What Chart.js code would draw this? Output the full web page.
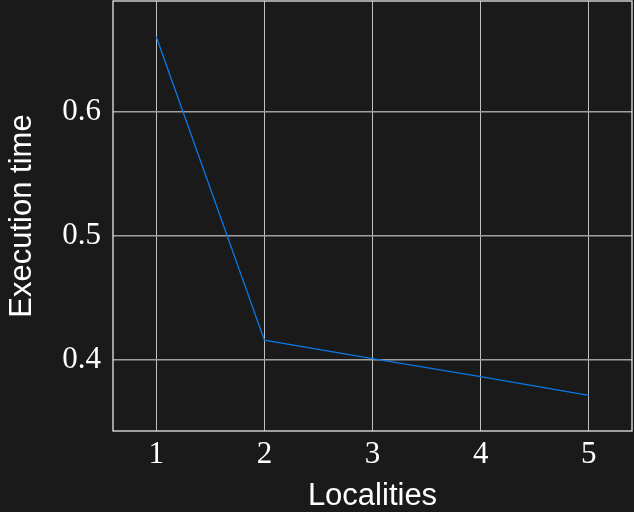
<!DOCTYPE html>
<html>
<head>
<meta charset="utf-8">
<script src="https://cdn.jsdelivr.net/npm/chart.js@4"></script>
<style>
html,body{margin:0;padding:0;background:#1a1a1a;}
canvas{display:block;}
</style>
</head>
<body>
<canvas id="c" width="634" height="512"></canvas>
<script>
const localities = [1, 2, 3, 4, 5];
const executionTime = [0.6607, 0.416, 0.401, 0.3865, 0.3715];
const xTicks = [1, 2, 3, 4, 5];
const yTicks = [0.4, 0.5, 0.6];

const frame = {
  id: 'frame',
  afterDraw(chart) {
    const a = chart.chartArea, ctx = chart.ctx;
    ctx.save();
    ctx.strokeStyle = '#e6e6e6';
    ctx.lineWidth = 1.3;
    ctx.strokeRect(a.left, a.top, a.right - a.left, a.bottom - a.top);
    ctx.restore();
  }
};

new Chart(document.getElementById('c'), {
  type: 'line',
  data: {
    datasets: [{
      data: localities.map((x, i) => ({x: x, y: executionTime[i]})),
      borderColor: '#0a78e6',
      borderWidth: 1.3,
      pointRadius: 0,
      fill: false,
      tension: 0
    }]
  },
  options: {
    responsive: false,
    animation: false,
    layout: {padding: {top: 1, right: 2, left: 0, bottom: 0}},
    plugins: {legend: {display: false}, tooltip: {enabled: false}},
    scales: {
      x: {
        type: 'linear',
        min: 0.6, max: 5.4,
        afterBuildTicks: s => { s.ticks = xTicks.map(v => ({value: v})); },
        afterFit: s => { s.height = 81; s.paddingLeft = 0; s.paddingRight = 0; },
        grid: {color: '#c0c0c0', lineWidth: 1, drawTicks: false},
        border: {display: false},
        ticks: {color: '#ffffff', font: {family: 'Liberation Serif', size: 31}, padding: 5, maxRotation: 0,
                callback: v => String(v)},
        title: {display: true, text: 'Localities', color: '#ffffff',
                font: {family: 'Liberation Sans', size: 31}, padding: {top: 0, bottom: -3}}
      },
      y: {
        type: 'linear',
        min: 0.3427, max: 0.6895,
        afterBuildTicks: s => { s.ticks = yTicks.map(v => ({value: v})); },
        afterFit: s => { s.width = 113; s.paddingTop = 0; s.paddingBottom = 0; },
        grid: {color: '#a0a0a0', lineWidth: 1.6, drawTicks: false},
        border: {display: false},
        ticks: {color: '#ffffff', font: {family: 'Liberation Serif', size: 31}, padding: 12,
                callback: v => v.toFixed(1)},
        title: {display: true, text: 'Execution time', color: '#ffffff',
                font: {family: 'Liberation Sans', size: 31}, padding: {top: 4, bottom: 0}}
      }
    }
  },
  plugins: [frame]
});
</script>
</body>
</html>
